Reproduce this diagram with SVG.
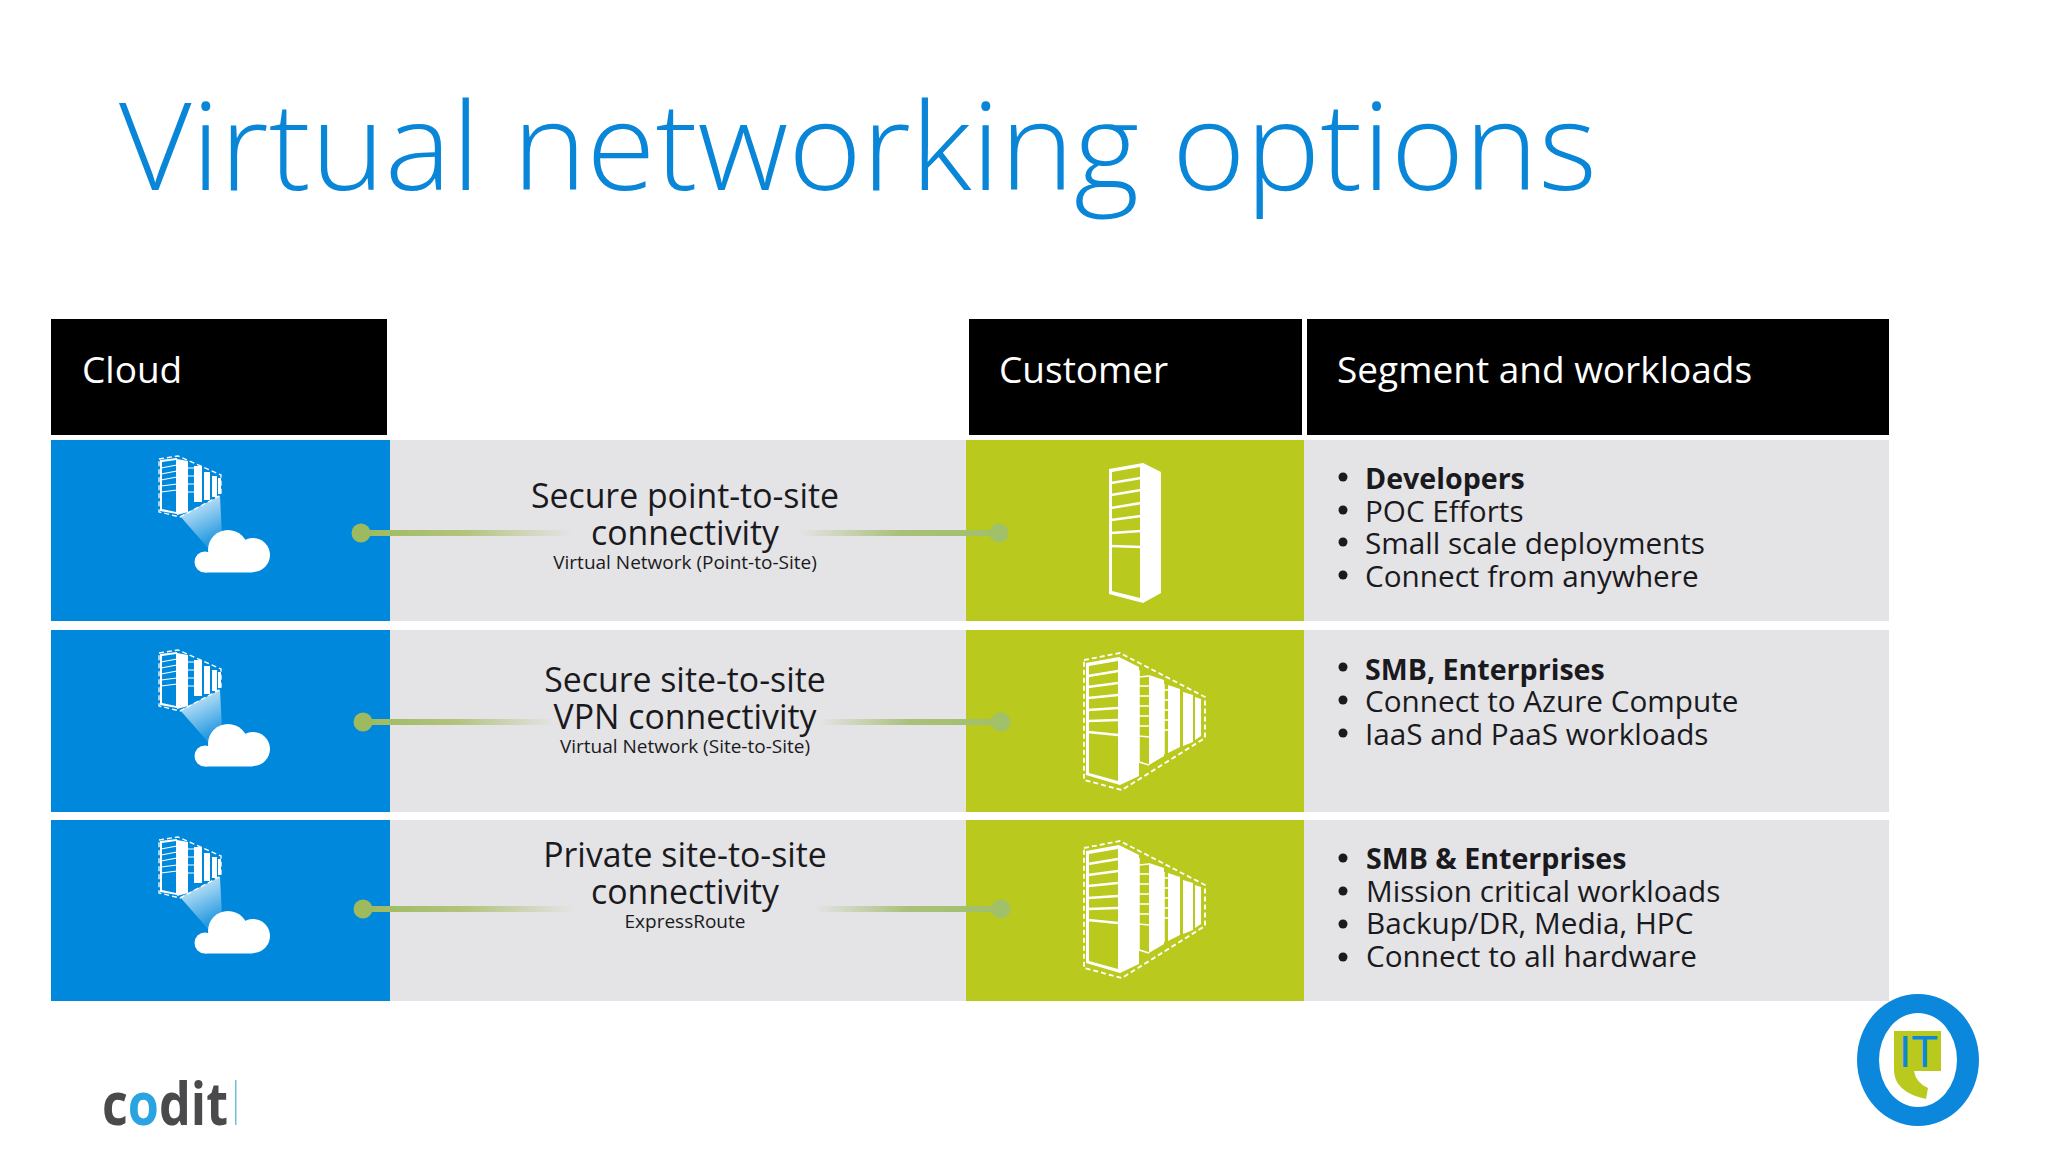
<svg xmlns="http://www.w3.org/2000/svg" width="2048" height="1152" viewBox="0 0 2048 1152">
<style>
text{font-family:"Open Sans","Noto Sans","Liberation Sans",sans-serif;fill:#1a1a1e}
.h{fill:#fff;font-size:37px}
.m{font-size:33.8px;text-anchor:middle}
.s{font-size:19px;text-anchor:middle}
.b{font-size:29.7px}
.bb{font-size:28.6px;font-weight:700}
.blue{fill:#0089dc}.green{fill:#b9c91e}.grey{fill:#e4e3e5}
.bu{fill:#1a1a1e}
.dash{fill:none;stroke:#fff;stroke-dasharray:5 3}
</style>
<defs>
<linearGradient id="gl"><stop offset="0" stop-color="#9dba5e"/><stop offset="0.5" stop-color="#b3c47e"/><stop offset="1" stop-color="#b3c47e" stop-opacity="0"/></linearGradient>
<linearGradient id="gr"><stop offset="0" stop-color="#a9c07a" stop-opacity="0"/><stop offset="0.5" stop-color="#a9c07a"/><stop offset="1" stop-color="#a0c06a"/></linearGradient>
<linearGradient id="beam" x1="0" y1="0" x2="0.4" y2="1"><stop offset="0" stop-color="#fff" stop-opacity=".95"/><stop offset="1" stop-color="#fff" stop-opacity=".15"/></linearGradient>
<g id="rack">
<path fill="#fff" d="M1109 469 L1143 463 L1161 472 L1161 593 L1143 603 L1109 594 Z"/>
<path class="green" d="M1112 472 L1140 467 L1140 598 L1112 591 Z"/>
<g stroke="#fff" stroke-width="2.5"><path d="M1111 483 L1141 478 M1111 495 L1141 490 M1111 508 L1141 503 M1111 520 L1141 516 M1111 533 L1141 531 M1111 546 L1141 547"/></g>
</g>
<g id="racks">
<path class="dash" stroke-width="1.8" d="M1084 660 L1120 653 L1205 697 L1205 738 L1122 790 L1084 780 Z"/>
<path fill="#fff" d="M1086 663 L1119 657 L1139 667 L1139 776 L1120 785 L1086 775 Z"/>
<path class="green" d="M1089 666 L1118 661 L1118 781 L1089 773 Z"/>
<g stroke="#fff" stroke-width="2.5"><path d="M1088 676 L1118 671 M1088 687 L1118 683 M1088 698 L1118 695 M1088 710 L1118 708 M1088 721 L1118 720 M1088 732 L1118 735"/></g>
<path fill="#fff" d="M1149 675 L1164 680 L1164 756 L1149 765 Z"/>
<path fill="#fff" d="M1168 685 L1180 689 L1180 747 L1168 753 Z"/>
<path fill="#fff" d="M1183 692 L1193 695 L1193 742 L1183 746 Z"/>
<path fill="#fff" d="M1195 697 L1201 699 L1201 736 L1195 740 Z"/>
<g stroke="#fff" stroke-width="1.5"><path d="M1139 677 L1149 676 M1139 686 L1149 686 M1139 696 L1149 696 M1139 706 L1149 706 M1139 716 L1149 716 M1139 726 L1149 726 M1139 736 L1149 737 M1139 762 L1149 765 M1139 670 V762"/><path d="M1164 690 H1168 M1164 700 H1168 M1164 710 H1168 M1164 720 H1168 M1164 730 H1168 M1164 684 V754"/></g>
</g>
<g id="cloudicon">
<path fill="url(#beam)" d="M180 516 L220 496 L222 535 L208 548 Z"/>
<path class="dash" stroke-width="1.3" stroke-dasharray="3 2" d="M159 459 L178 456 L221 475 L221 495 L180 517 L159 512 Z"/>
<path fill="#fff" d="M160 460 L177 458 L177 514 L160 511 Z"/>
<path class="blue" d="M162 462 L176 460 L176 512 L162 509 Z"/>
<g stroke="#fff" stroke-width="1.2"><path d="M161 468 L177 465 M161 474 L177 471 M161 480 L177 477 M161 486 L177 484 M161 492 L177 490"/></g>
<path fill="#fff" d="M177 459 L188 461 L188 512 L177 515 Z"/>
<path stroke="#fff" stroke-width="1" d="M188 468 H194 M188 476 H194 M188 484 H194 M188 492 H194"/>
<rect x="194" y="466" width="8" height="36" fill="#fff"/>
<rect x="204" y="472" width="6" height="28" fill="#fff"/>
<rect x="212" y="476" width="5" height="21" fill="#fff"/>
<rect x="218" y="478" width="3" height="16" fill="#fff"/>
<g fill="#fff"><circle cx="205" cy="562" r="10.5"/><circle cx="228" cy="550" r="20"/><circle cx="253" cy="555" r="17"/><rect x="205" y="552" width="48" height="20.5"/></g>
</g>
</defs>

<text x="119" y="190" textLength="1478" lengthAdjust="spacingAndGlyphs" style="font-size:122px;font-weight:300;fill:#0a86d8" id="title">Virtual networking options</text>

<g id="header-cloud"><rect x="51" y="319" width="336" height="116" fill="#000"/><text class="h" x="82" y="383">Cloud</text></g>
<g id="header-customer"><rect x="969" y="319" width="333" height="116" fill="#000"/><text class="h" x="999" y="383">Customer</text></g>
<g id="header-segment"><rect x="1307" y="319" width="582" height="116" fill="#000"/><text class="h" x="1337" y="383">Segment and workloads</text></g>

<g id="row1-mid"><rect class="grey" x="390" y="440" width="1499" height="181"/></g>
<g id="row2-mid"><rect class="grey" x="390" y="630" width="1499" height="182"/></g>
<g id="row3-mid"><rect class="grey" x="390" y="820" width="1499" height="181"/></g>

<g id="cloud1"><rect class="blue" x="51" y="440" width="339" height="181"/><use href="#cloudicon"/></g>
<g id="cloud2"><rect class="blue" x="51" y="630" width="339" height="182"/><use href="#cloudicon" y="194"/></g>
<g id="cloud3"><rect class="blue" x="51" y="820" width="339" height="181"/><use href="#cloudicon" y="381"/></g>

<g id="customer1"><rect class="green" x="966" y="440" width="338" height="181"/><use href="#rack"/></g>
<g id="customer2"><rect class="green" x="966" y="630" width="338" height="182"/><use href="#racks"/></g>
<g id="customer3"><rect class="green" x="966" y="820" width="338" height="181"/><use href="#racks" y="188"/></g>

<g id="connectors">
<rect x="361" y="530" width="210" height="6" fill="url(#gl)"/><rect x="800" y="530" width="199" height="6" fill="url(#gr)"/>
<circle cx="361" cy="533" r="9.5" fill="#9dba5e"/><circle cx="999" cy="533" r="9.5" fill="#a0c06a"/>
<rect x="363" y="719" width="190" height="6" fill="url(#gl)"/><rect x="820" y="719" width="181" height="6" fill="url(#gr)"/>
<circle cx="363" cy="722" r="9.5" fill="#9dba5e"/><circle cx="1001" cy="722" r="9.5" fill="#a0c06a"/>
<rect x="363" y="906" width="210" height="6" fill="url(#gl)"/><rect x="815" y="906" width="186" height="6" fill="url(#gr)"/>
<circle cx="363" cy="909" r="9.5" fill="#9dba5e"/><circle cx="1001" cy="909" r="9.5" fill="#a0c06a"/>
</g>

<g id="label1"><text class="m" x="685" y="508">Secure point-to-site</text><text class="m" x="685" y="545">connectivity</text><text class="s" x="685" y="569">Virtual Network (Point-to-Site)</text></g>
<g id="label2"><text class="m" x="685" y="692">Secure site-to-site</text><text class="m" x="685" y="729">VPN connectivity</text><text class="s" x="685" y="753">Virtual Network (Site-to-Site)</text></g>
<g id="label3"><text class="m" x="685" y="867">Private site-to-site</text><text class="m" x="685" y="904">connectivity</text><text class="s" x="685" y="928">ExpressRoute</text></g>

<g id="segment1">
<circle class="bu" cx="1343" cy="477" r="4.5"/><circle class="bu" cx="1343" cy="510" r="4.5"/><circle class="bu" cx="1343" cy="542" r="4.5"/><circle class="bu" cx="1343" cy="575" r="4.5"/>
<text class="bb" x="1365" y="489">Developers</text><text class="b" x="1365" y="522">POC Efforts</text><text class="b" x="1365" y="554">Small scale deployments</text><text class="b" x="1365" y="587">Connect from anywhere</text>
</g>
<g id="segment2">
<circle class="bu" cx="1343" cy="667" r="4.5"/><circle class="bu" cx="1343" cy="700" r="4.5"/><circle class="bu" cx="1343" cy="733" r="4.5"/>
<text class="bb" x="1365" y="680">SMB, Enterprises</text><text class="b" x="1365" y="712">Connect to Azure Compute</text><text class="b" x="1365" y="745">IaaS and PaaS workloads</text>
</g>
<g id="segment3">
<circle class="bu" cx="1343" cy="858" r="4.5"/><circle class="bu" cx="1343" cy="891" r="4.5"/><circle class="bu" cx="1343" cy="924" r="4.5"/><circle class="bu" cx="1343" cy="957" r="4.5"/>
<text class="bb" x="1366" y="869">SMB &amp; Enterprises</text><text class="b" x="1366" y="902">Mission critical workloads</text><text class="b" x="1366" y="934">Backup/DR, Media, HPC</text><text class="b" x="1366" y="967">Connect to all hardware</text>
</g>

<g id="codit-logo">
<text x="102" y="1125" textLength="126" lengthAdjust="spacingAndGlyphs" style="font-size:59px;font-weight:700;fill:#4a4a4d">c<tspan style="fill:#29a4e0">o</tspan>dit</text>
<rect x="235" y="1080" width="1.5" height="45" fill="#6cc0e0"/>
</g>
<g id="it-logo">
<path fill="#0b88dc" fill-rule="evenodd" d="M1857 1060 A61 66 0 1 1 1979 1060 A61 66 0 1 1 1857 1060 Z M1879 1060 A39 47 0 1 0 1957 1060 A39 47 0 1 0 1879 1060 Z"/>
<path class="green" d="M1894 1031 H1941 V1071 H1914 Q1916 1083 1928 1088 L1926 1099 Q1894 1092 1894 1070 Z"/>
<text x="1899" y="1067" style="font-size:44px;fill:#0b88dc;font-family:'Liberation Sans',sans-serif" id="it">IT</text>
</g>
</svg>
